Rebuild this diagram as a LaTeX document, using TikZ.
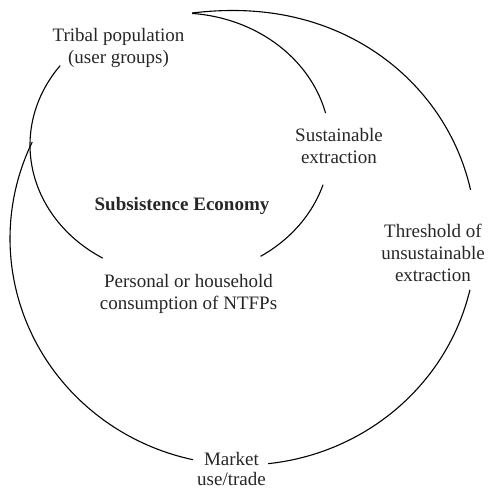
\documentclass[tikz,border=0pt]{standalone}
\usepackage{fontspec}
\setmainfont{Liberation Serif}
\newcommand\lblsize{\fontsize{9.5}{11}\selectfont}
\newcommand\tightsize{\fontsize{9.5}{10.2}\selectfont}
\begin{document}
\begin{tikzpicture}[x=0.5pt,y=-0.5pt,
  ring/.style={line width=0.55pt, black},
  lbl/.style={align=center, font=\lblsize, inner sep=0pt, text=black!85}]
\useasboundingbox (0,0) rectangle (489,488);

% inner loop: subsistence economy
\draw[ring] plot[domain=-85.4:-14, samples=60] ({180+150*cos(\x)},{145+132*sin(\x)});
\draw[ring] plot[domain=17.5:57.5, samples=40] ({180+150*cos(\x)},{145+132*sin(\x)});
\draw[ring] plot[domain=121:217, samples=80] ({180+150*cos(\x)},{145+132*sin(\x)});

% outer loop: market economy
\draw[ring] plot[domain=102.4:205.2, samples=80] ({243+233*cos(\x)},{238.5+226.5*sin(\x)});
\draw[ring] plot[domain=13.1:83.8, samples=60] ({243+233*cos(\x)},{238.5+226.5*sin(\x)});
\draw[ring] plot[domain=-102.6:-12.4, samples=80]
  ({243+233*cos(\x)},{238.5+226.5*sin(\x)-4.5*(((\x+12.4)/90.2)*((\x+12.4)/90.2))^4});

% labels
\node[lbl] (tribal) at (118.5,47.5) {Tribal population\\(user groups)};
\node[lbl] (sustain) at (339,145.5) {Sustainable\\extraction};
\node[lbl, font=\lblsize\bfseries] (subsist) at (182,205.5) {Subsistence Economy};
\node[lbl] (threshold) at (433,252.5) {Threshold of\\unsustainable\\extraction};
\node[lbl] (personal) at (188.5,293.5) {Personal or household\\consumption of NTFPs};
\node[lbl, font=\tightsize] (market) at (231.5,469) {Market\\use/trade};
\end{tikzpicture}
\end{document}
